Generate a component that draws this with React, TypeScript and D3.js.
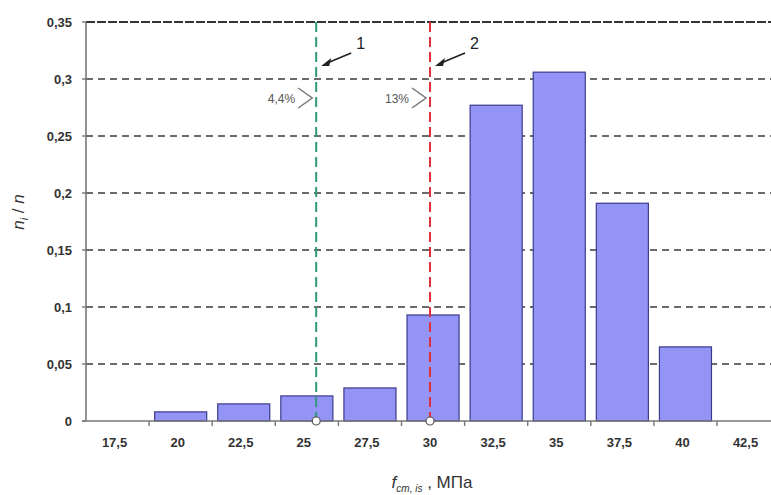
import React, { useRef, useEffect } from 'react';
import * as d3 from 'd3';

const categories = [17.5, 20, 22.5, 25, 27.5, 30, 32.5, 35, 37.5, 40, 42.5];
const frequencies = [0, 0.008, 0.015, 0.022, 0.029, 0.093, 0.277, 0.306, 0.191, 0.065, 0];
const yTicks = [0, 0.05, 0.1, 0.15, 0.2, 0.25, 0.3, 0.35];
const markers = [
  { value: 25.37, label: '1', share: '4,4%', color: '#2e9a78' },
  { value: 29.88, label: '2', share: '13%', color: '#e0303a' },
];

const comma = (v: number) => String(v).replace('.', ',');

const App = () => {
  const ref = useRef<SVGSVGElement>(null);

  useEffect(() => {
    const svg = d3.select(ref.current);
    svg.selectAll('*').remove();

    const left = 86, top = 22, bottom = 421;
    const step = 63.1;
    const right = left + step * categories.length;

    const x = d3.scaleBand<number>()
      .domain(categories)
      .range([left, right])
      .paddingInner(0.175)
      .paddingOuter(0.0875);
    const xv = d3.scaleLinear()
      .domain([categories[0] - 1.25, categories[categories.length - 1] + 1.25])
      .range([left, right]);
    const y = d3.scaleLinear().domain([0, 0.35]).range([bottom, top]);

    // grid
    svg.append('g')
      .selectAll('line')
      .data(yTicks.filter(t => t > 0))
      .join('line')
        .attr('x1', left)
        .attr('x2', 771)
        .attr('y1', d => y(d))
        .attr('y2', d => y(d))
        .attr('stroke', d => d === 0.35 ? '#333' : '#6a6a6a')
        .attr('stroke-width', d => d === 0.35 ? 2.2 : 1.8)
        .attr('stroke-dasharray', d => d === 0.35 ? '9,2' : '7,5');

    // bars
    svg.append('g')
      .selectAll('rect')
      .data(categories.map((c, i) => ({ c, v: frequencies[i] })).filter(d => d.v > 0))
      .join('rect')
        .attr('x', d => x(d.c)!)
        .attr('y', d => y(d.v))
        .attr('width', x.bandwidth())
        .attr('height', d => bottom - y(d.v))
        .attr('fill', '#9494f7')
        .attr('stroke', '#3b3b8c')
        .attr('stroke-width', 1.2);

    // axes
    svg.append('line')
      .attr('x1', left).attr('x2', left).attr('y1', top).attr('y2', bottom)
      .attr('stroke', '#777').attr('stroke-width', 1.6);
    svg.append('line')
      .attr('x1', left - 4).attr('x2', 771).attr('y1', bottom).attr('y2', bottom)
      .attr('stroke', '#777').attr('stroke-width', 1.6);

    svg.append('g')
      .selectAll('line')
      .data(yTicks)
      .join('line')
        .attr('x1', left - 4).attr('x2', left)
        .attr('y1', d => y(d)).attr('y2', d => y(d))
        .attr('stroke', '#777').attr('stroke-width', 1.4);

    svg.append('g')
      .selectAll('line')
      .data(categories.slice(1))
      .join('line')
        .attr('x1', d => xv(d - 1.25)).attr('x2', d => xv(d - 1.25))
        .attr('y1', bottom).attr('y2', bottom + 5)
        .attr('stroke', '#777').attr('stroke-width', 1.4);

    svg.append('g')
      .selectAll('text')
      .data(yTicks)
      .join('text')
        .attr('x', left - 14)
        .attr('y', d => y(d) + 4.5)
        .attr('text-anchor', 'end')
        .attr('font-family', 'Liberation Sans Narrow, Liberation Sans, Arial, sans-serif')
        .attr('font-weight', 'bold')
        .attr('font-size', 13)
        .attr('fill', '#333')
        .text(d => comma(d));

    svg.append('g')
      .selectAll('text')
      .data(categories)
      .join('text')
        .attr('x', d => xv(d) - 3)
        .attr('y', bottom + 26)
        .attr('text-anchor', 'middle')
        .attr('font-family', 'Liberation Sans Narrow, Liberation Sans, Arial, sans-serif')
        .attr('font-weight', 'bold')
        .attr('font-size', 13)
        .attr('fill', '#333')
        .text(d => comma(d));

    // marker lines
    markers.forEach(m => {
      const mx = xv(m.value);
      svg.append('line')
        .attr('x1', mx).attr('x2', mx).attr('y1', top).attr('y2', bottom)
        .attr('stroke', m.color).attr('stroke-width', 2)
        .attr('stroke-dasharray', '10,5');
      svg.append('circle')
        .attr('cx', mx).attr('cy', bottom).attr('r', 4)
        .attr('fill', '#fff').attr('stroke', '#555').attr('stroke-width', 1.2);

      // arrow with number
      svg.append('text')
        .attr('x', mx + 40).attr('y', 49)
        .attr('font-family', 'Liberation Sans, Arial, sans-serif')
        .attr('font-size', 16)
        .attr('fill', '#222')
        .text(m.label);
      svg.append('line')
        .attr('x1', mx + 35).attr('x2', mx + 11)
        .attr('y1', 53).attr('y2', 63)
        .attr('stroke', '#222').attr('stroke-width', 1.6);
      svg.append('path')
        .attr('d', `M${mx + 5},${66} L${mx + 15},${58} L${mx + 13},${66} Z`)
        .attr('fill', '#222');

      // share label with chevron
      svg.append('text')
        .attr('x', mx - 21).attr('y', 103)
        .attr('text-anchor', 'end')
        .attr('font-family', 'Liberation Sans Narrow, Liberation Sans, Arial, sans-serif')
        .attr('font-size', 12)
        .attr('fill', '#555')
        .text(m.share);
      svg.append('path')
        .attr('d', `M${mx - 18},${88} L${mx - 4},${98} L${mx - 18},${108}`)
        .attr('fill', 'none')
        .attr('stroke', '#777')
        .attr('stroke-width', 1.5);
    });

    // axis titles
    const yt = svg.append('text')
      .attr('transform', 'translate(24,212) rotate(-90)')
      .attr('text-anchor', 'middle')
      .attr('font-family', 'Liberation Sans, Arial, sans-serif')
      .attr('font-size', 17)
      .attr('fill', '#333');
    yt.append('tspan').attr('font-style', 'italic').text('n');
    yt.append('tspan').attr('font-style', 'italic').attr('font-size', 11).attr('dy', 4).text('i');
    yt.append('tspan').attr('dy', -4).text(' / ');
    yt.append('tspan').attr('font-style', 'italic').text('n');

    const xt = svg.append('text')
      .attr('x', 432).attr('y', 488)
      .attr('text-anchor', 'middle')
      .attr('font-family', 'Liberation Sans, Arial, sans-serif')
      .attr('font-size', 17)
      .attr('fill', '#333');
    xt.append('tspan').attr('font-style', 'italic').text('f');
    xt.append('tspan').attr('font-style', 'italic').attr('font-size', 10).attr('dy', 4).text('cm, is');
    xt.append('tspan').attr('dy', -4).text(' , МПа');
  }, []);

  return (
    <svg
      ref={ref}
      width={771}
      height={495}
      style={{ position: 'absolute', left: 0, top: 0, background: '#fff' }}
    />
  );
};

export default App;
